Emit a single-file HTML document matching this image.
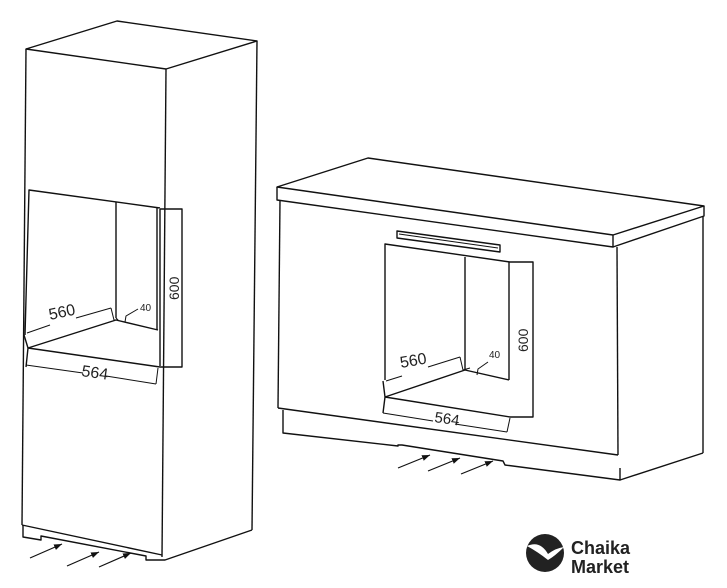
<!DOCTYPE html>
<html><head><meta charset="utf-8"><style>
html,body{margin:0;padding:0;background:#fff;}
svg{display:block;}
</style></head><body>
<svg width="727" height="588" viewBox="0 0 727 588" xmlns="http://www.w3.org/2000/svg">
<defs>
<marker id="ah" markerWidth="8" markerHeight="6" refX="8" refY="3" orient="auto" markerUnits="userSpaceOnUse"><path d="M0,0 L8,3 L0,6 z" fill="#111"/></marker>
</defs>
<g fill="none" stroke="#111" stroke-width="1.4" stroke-linejoin="round">
<polygon points="26,49 117,21 257,41 166,69"/>
<line x1="26" y1="49" x2="22" y2="525"/>
<line x1="166" y1="69" x2="162" y2="557"/>
<line x1="257" y1="41" x2="252" y2="530"/>
<line x1="22" y1="525" x2="162" y2="555"/>
<polyline points="23,525 23,537 41,540 41,536 146,556 146,560 165,560 252,530"/>
<polyline points="25,335 29,190 160,208"/>
<line x1="160" y1="209" x2="160" y2="366"/>
<line x1="157" y1="208" x2="157" y2="330"/>
<line x1="116" y1="202" x2="116" y2="318"/>
<polyline points="28,348 116,320 158,330"/>
<line x1="28" y1="348" x2="160" y2="367"/>
<polyline points="24,335 28,348 26,367"/>
<polyline points="160,209 182,209 182,367 160,367"/>
<line x1="26" y1="365" x2="83" y2="373" stroke-width="1"/>
<line x1="106" y1="376" x2="156" y2="384" stroke-width="1"/>
<line x1="156" y1="384" x2="158" y2="368" stroke-width="1"/>
<line x1="27" y1="333" x2="50" y2="325" stroke-width="1"/>
<line x1="76" y1="318" x2="111" y2="308" stroke-width="1"/>
<polyline points="111,308 114,320 118,320 116,318" stroke-width="1"/>
<polyline points="125,322 126,316 138,309" stroke-width="1"/>
<polygon points="277,187 368,158 704,206 613,235"/>
<polyline points="277,187 277,200 613,247 613,235"/>
<polyline points="613,247 704,216 704,206"/>
<line x1="280" y1="200" x2="278" y2="408"/>
<line x1="617" y1="247" x2="618" y2="455"/>
<line x1="703" y1="216" x2="703" y2="453"/>
<line x1="278" y1="408" x2="618" y2="455"/>
<polyline points="283,410 283,433 398,446 398,445 402,445 503,461 505,465 620,480 620,468"/>
<line x1="620" y1="480" x2="703" y2="453"/>
<polygon points="397,231 500,245 500,252 397,238"/>
<line x1="399" y1="234" x2="498" y2="248" stroke-width="1"/>
<polyline points="385,380 385,244 510,262 533,262 533,417 510,417"/>
<line x1="509" y1="262" x2="509" y2="380"/>
<line x1="465" y1="257" x2="465" y2="370"/>
<polyline points="385,397 465,370 509,380"/>
<line x1="385" y1="397" x2="510" y2="417"/>
<polyline points="383,381 385,397 383,413"/>
<line x1="383" y1="413" x2="433" y2="421" stroke-width="1"/>
<line x1="455" y1="424" x2="507" y2="432" stroke-width="1"/>
<line x1="507" y1="432" x2="510" y2="418" stroke-width="1"/>
<line x1="386" y1="381" x2="402" y2="376" stroke-width="1"/>
<line x1="428" y1="367" x2="460" y2="357" stroke-width="1"/>
<polyline points="460,357 463,370 470,368" stroke-width="1"/>
<polyline points="477,375 478,369 488,362" stroke-width="1"/>
</g>
<g stroke="#111" stroke-width="1.2" marker-end="url(#ah)">
<line x1="30" y1="558" x2="62" y2="544"/>
<line x1="67" y1="566" x2="99" y2="552"/>
<line x1="99" y1="567" x2="131" y2="553"/>
<line x1="398" y1="468" x2="430" y2="455"/>
<line x1="428" y1="471" x2="460" y2="458"/>
<line x1="461" y1="474" x2="493" y2="461"/>
</g>
<g font-family="Liberation Sans, sans-serif" fill="#222">
<text x="50" y="320" font-size="16" transform="rotate(-12 50 320)">560</text>
<text x="140" y="311" font-size="10">40</text>
<text x="81" y="376" font-size="16" transform="rotate(8 81 376)">564</text>
<text x="179" y="300" font-size="14" transform="rotate(-90 179 300)">600</text>
<text x="401" y="368" font-size="16" transform="rotate(-10 401 368)">560</text>
<text x="489" y="358" font-size="10">40</text>
<text x="434" y="422" font-size="15" transform="rotate(8 434 422)">564</text>
<text x="528" y="352" font-size="14" transform="rotate(-90 528 352)">600</text>
</g>
<circle cx="545" cy="553" r="19" fill="#222"/>
<path d="M527,546 Q540,540 548,554 Q556,548 564,547 Q555,556 548,560 Q538,552 527,546 z" fill="#fff"/>
<g font-family="Liberation Sans, sans-serif" font-weight="bold" fill="#222" font-size="18">
<text x="571" y="554">Chaika</text>
<text x="571" y="573">Market</text>
</g>
</svg>
</body></html>
